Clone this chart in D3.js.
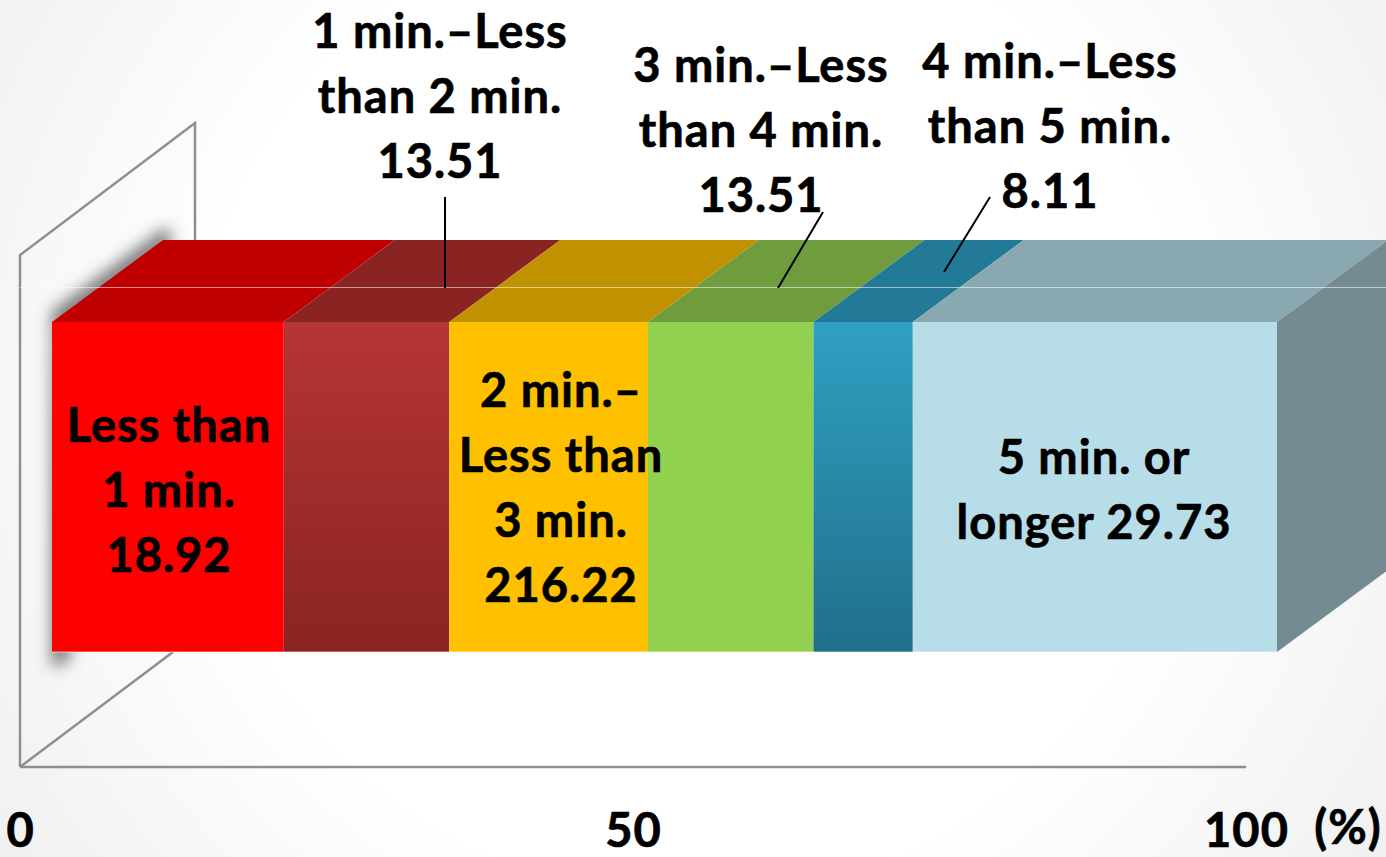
<!DOCTYPE html>
<html>
<head>
<meta charset="utf-8">
<script src="https://cdnjs.cloudflare.com/ajax/libs/d3/7.8.5/d3.min.js"></script>
<style>
  html, body { margin: 0; padding: 0; background: #fff; overflow: hidden; }
  text { font-family: Lato, "Open Sans", sans-serif; font-weight: 700; fill: #000; stroke: #000; stroke-width: 0.7px; letter-spacing: 1px; }
</style>
</head>
<body>
<div id="chart"></div>
<script>
// data
var categories = ["Less than 1 min.", "1 min.–Less than 2 min.", "2 min.–Less than 3 min.", "3 min.–Less than 4 min.", "4 min.–Less than 5 min.", "5 min. or longer"];
var values = [18.92, 13.51, 16.22, 13.51, 8.11, 29.73];
var labelLines = [
  ["Less than", "1 min.", "18.92"],
  ["1 min.–Less", "than 2 min.", "13.51"],
  ["2 min.–", "Less than", "3 min.", "216.22"],
  ["3 min.–Less", "than 4 min.", "13.51"],
  ["4 min.–Less", "than 5 min.", "8.11"],
  ["5 min. or", "longer 29.73"]
];
var axisTicks = [0, 50, 100];

// colours, front / top
var frontColors = ["#ff0000", "url(#gradDark)", "#ffc000", "#92d050", "url(#gradBlue)", "#b7dde8"];
var topColors = ["#c00000", "#8a2423", "#c09100", "#6f9c3c", "#227a96", "#8aa8b0"];
var sideColor = "#758b92";

//Width and height
var width = 1386, height = 857;

// box sits in front of the wall, so it has its own scale
var x = d3.scaleLinear().domain([0, 100]).range([52, 1277]);
var xFloor = d3.scaleLinear().domain([0, 100]).range([20, 1246]);
var y = d3.scaleBand().domain(["share"]).range([322, 652]);
var depthX = 111, depthY = 82;

var svg = d3.select("#chart").append("svg")
  .attr("width", width)
  .attr("height", height)
  .style("display", "block");

var defs = svg.append("defs");

var bg = defs.append("radialGradient").attr("id", "bg")
  .attr("gradientUnits", "userSpaceOnUse")
  .attr("cx", 693).attr("cy", 400).attr("r", 900);
bg.append("stop").attr("offset", 0.55).attr("stop-color", "#ffffff");
bg.append("stop").attr("offset", 1).attr("stop-color", "#ededed");

function addVertical(id, top, bottom) {
  var g = defs.append("linearGradient").attr("id", id)
    .attr("x1", 0).attr("y1", 0).attr("x2", 0).attr("y2", 1);
  g.append("stop").attr("offset", 0).attr("stop-color", top);
  g.append("stop").attr("offset", 1).attr("stop-color", bottom);
}
addVertical("gradDark", "#b63533", "#8a2423");
addVertical("gradBlue", "#30a0c2", "#206f8a");

defs.append("filter").attr("id", "blur")
  .attr("x", "-40%").attr("y", "-40%").attr("width", "180%").attr("height", "180%")
  .append("feGaussianBlur").attr("stdDeviation", 8);

svg.append("rect").attr("width", width).attr("height", height).attr("fill", "url(#bg)");

// wall and floor
var line = d3.line();
var wallLeft = xFloor(0), wallRight = 195;
var wall = svg.append("g").attr("fill", "none").attr("stroke", "#8f8f8f").attr("stroke-width", 2.5);
wall.append("path").attr("d", line([[wallLeft, 767], [wallLeft, 255], [wallRight, 123], [wallRight, 245]]));
wall.append("path").attr("d", line([[wallLeft, 767], [173, 652]]));
wall.append("path").attr("d", line([[wallLeft, 767], [xFloor(100), 767]]));

// shadow behind the box
svg.append("path")
  .attr("d", line([[52, 668], [52, 312], [168, 226], [172, 245], [60, 330], [70, 660]]))
  .attr("fill", "#707070")
  .attr("filter", "url(#blur)");

// stacked segments
var stack = d3.stack().keys(d3.range(values.length))([values]);
var bandTop = y("share"), bandBottom = bandTop + y.bandwidth();

var segments = svg.append("g").selectAll("g")
  .data(stack)
  .enter()
  .append("g");

segments.append("path")
  .attr("d", function (d) {
    var x0 = x(d[0][0]), x1 = x(d[0][1]);
    return line([[x0, bandTop], [x1, bandTop], [x1 + depthX, bandTop - depthY], [x0 + depthX, bandTop - depthY]]) + "Z";
  })
  .attr("fill", function (d, i) { return topColors[i]; });

segments.append("rect")
  .attr("x", function (d) { return x(d[0][0]); })
  .attr("y", bandTop)
  .attr("width", function (d) { return x(d[0][1]) - x(d[0][0]); })
  .attr("height", y.bandwidth())
  .attr("fill", function (d, i) { return frontColors[i]; });

// pale edge along the foot of the front face
svg.append("line")
  .attr("x1", x(0)).attr("x2", x(100))
  .attr("y1", bandBottom).attr("y2", bandBottom)
  .attr("stroke", "#fff").attr("stroke-opacity", 0.3).attr("stroke-width", 2);

// right side
svg.append("path")
  .attr("d", line([[x(100), bandTop], [x(100) + depthX, bandTop - depthY], [x(100) + depthX, bandBottom - depthY], [x(100), bandBottom]]) + "Z")
  .attr("fill", sideColor);

// the thin pale line across the box
svg.append("line")
  .attr("x1", wallLeft).attr("x2", width)
  .attr("y1", 287.5).attr("y2", 287.5)
  .attr("stroke", "#fff").attr("stroke-opacity", 0.55).attr("stroke-width", 1);

// leader lines
var leaders = svg.append("g").attr("stroke", "#000").attr("stroke-width", 2);
[[445, 197, 445, 288], [823, 212, 778, 288], [990, 197, 944, 272]].forEach(function (p) {
  leaders.append("line").attr("x1", p[0]).attr("y1", p[1]).attr("x2", p[2]).attr("y2", p[3]);
});

// labels, first baseline and centre for each
var labelAt = [[169, 442], [440, 48], [561, 407], [761, 82], [1050, 78], [1094, 474]];
var lineGap = 65;
var fontSize = 47;
var labels = svg.append("g").attr("font-size", fontSize).attr("text-anchor", "middle");
labelLines.forEach(function (lines, i) {
  var t = labels.append("text");
  lines.forEach(function (s, j) {
    t.append("tspan")
      .attr("x", labelAt[i][0])
      .attr("y", labelAt[i][1] + j * lineGap)
      .text(s);
  });
});

// axis
var axis = d3.axisBottom(xFloor).tickValues(axisTicks).tickSize(0).tickFormat(d3.format("d"));
var axisG = svg.append("g").attr("transform", "translate(0,767)").call(axis);
axisG.select(".domain").remove();
axisG.selectAll("text").attr("font-size", fontSize).attr("y", 80).attr("dy", 0).attr("font-family", null);

svg.append("text")
  .attr("x", 1348).attr("y", 844)
  .attr("font-size", fontSize).attr("text-anchor", "middle")
  .text("(%)");
</script>
</body>
</html>
